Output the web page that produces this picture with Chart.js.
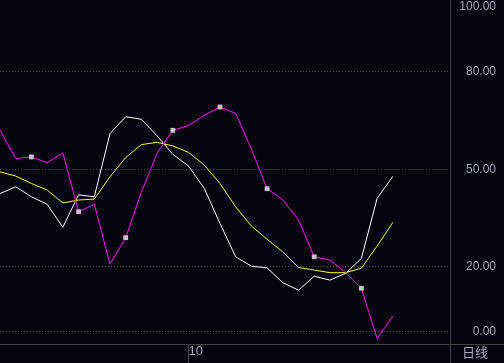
<!DOCTYPE html>
<html>
<head>
<meta charset="utf-8">
<script src="https://cdn.jsdelivr.net/npm/chart.js@4/dist/chart.umd.min.js"></script>
<style>
html,body{margin:0;padding:0;background:#04040e;overflow:hidden}
canvas{display:block}
</style>
</head>
<body>
<canvas id="c" width="504" height="363"></canvas>
<script>
// Trading-day positions shown in the window
const dayIndex = [0,1,2,3,4,5,6,7,8,9,10,11,12,13,14,15,16,17,18,19,20,21,22,23,24,25];

// Series values
const whiteLine   = [42.5,44.6,41.5,39.2,32.1,42.1,41.5,61.0,66.2,65.4,60.3,54.6,51.0,44.1,33.3,23.0,20.1,19.6,15.0,12.7,17.0,15.8,17.9,22.5,41.0,47.8];
const yellowLine  = [49.2,47.9,45.6,43.6,39.6,40.5,40.8,47.7,53.6,57.6,58.3,57.2,55.2,51.3,45.6,38.4,32.5,28.4,24.5,19.7,18.9,18.1,18.1,19.5,26.3,33.6];
const magentaLine = [62.0,53.3,53.8,52.0,55.1,36.9,39.2,20.7,28.9,42.9,55.0,62.0,63.5,66.6,69.2,67.2,56.2,44.0,40.6,34.3,23.0,22.0,18.1,13.3,-2.2,4.7];

// Tick labels
const yTickValues = [0,20,50,80,100];
const monthTickIndex = [12];
const monthTickLabels = ['10'];
const periodLabel = '日线';

const BG = '#04040e';
const FRAME = '#444444';
const GRID = '#474747';
const TEXT = '#a3adbb';

const framePlugin = {
  id: 'frame',
  beforeDraw(chart) {
    const ctx = chart.ctx;
    ctx.save();
    ctx.fillStyle = BG;
    ctx.fillRect(0, 0, chart.width, chart.height);
    ctx.restore();
  },
  afterDraw(chart) {
    const ctx = chart.ctx, a = chart.chartArea;
    ctx.save();
    ctx.strokeStyle = FRAME;
    ctx.lineWidth = 1;
    ctx.beginPath();
    ctx.moveTo(0, Math.round(a.bottom) + 0.5);
    ctx.lineTo(chart.width, Math.round(a.bottom) + 0.5);
    ctx.moveTo(Math.round(a.right) + 0.5, 0);
    ctx.lineTo(Math.round(a.right) + 0.5, chart.height);
    ctx.stroke();
    ctx.fillStyle = TEXT;
    ctx.font = '13px "Noto Sans CJK SC"';
    ctx.textAlign = 'center';
    ctx.textBaseline = 'middle';
    ctx.fillText(periodLabel, (a.right + chart.width) / 2 - 2, (a.bottom + chart.height) / 2 - 1);
    ctx.restore();
  }
};

function series(values) {
  return dayIndex.map((d, i) => ({ x: d, y: values[i] }));
}

new Chart(document.getElementById('c'), {
  type: 'line',
  data: {
    datasets: [
      {
        data: series(magentaLine),
        borderColor: '#ff00ff',
        borderWidth: 1,
        tension: 0,
        pointStyle: 'rect',
        pointRadius: ctx => (ctx.dataIndex % 3 === 2 ? 3.4 : 0),
        pointBackgroundColor: '#c8c4cc',
        pointBorderWidth: 0
      },
      {
        data: series(yellowLine),
        borderColor: '#ffff00',
        borderWidth: 1,
        tension: 0,
        pointRadius: 0
      },
      {
        data: series(whiteLine),
        borderColor: '#ffffff',
        borderWidth: 1,
        tension: 0,
        pointRadius: 0
      }
    ]
  },
  options: {
    responsive: false,
    animation: false,
    devicePixelRatio: 1,
    events: [],
    layout: { padding: { left: 0, top: 0, right: 8, bottom: 0 } },
    plugins: { legend: { display: false }, tooltip: { enabled: false } },
    scales: {
      x: {
        type: 'linear',
        min: 0,
        max: 28.64,
        afterBuildTicks: s => { s.ticks = monthTickIndex.map(v => ({ value: v })); },
        afterFit: s => { s.height = 19; s.paddingLeft = 0; s.paddingRight = 0; },
        grid: { display: true, drawOnChartArea: false, drawTicks: true, tickLength: 19, color: FRAME, tickColor: FRAME, lineWidth: 1 },
        border: { display: false },
        ticks: {
          align: 'start',
          padding: -19,
          maxRotation: 0,
          autoSkip: false,
          color: TEXT,
          font: { family: '"Liberation Sans", Arial, sans-serif', size: 13 },
          callback: v => { const k = monthTickIndex.indexOf(v); return k >= 0 ? monthTickLabels[k] : ''; }
        }
      },
      y: {
        position: 'right',
        min: -3.9,
        max: 102.2,
        afterBuildTicks: s => { s.ticks = yTickValues.map(v => ({ value: v })); },
        afterFit: s => { s.width = 46; s.paddingTop = 0; s.paddingBottom = 0; },
        grid: {
          drawTicks: false,
          lineWidth: 1,
          color: ctx => (ctx.tick && ctx.tick.value === 100 ? 'rgba(0,0,0,0)' : GRID)
        },
        border: { display: false, dash: [1, 2] },
        ticks: {
          crossAlign: 'far',
          padding: 0,
          color: TEXT,
          font: { family: '"Liberation Sans", Arial, sans-serif', size: 12 },
          callback: v => Number(v).toFixed(2)
        }
      }
    }
  },
  plugins: [framePlugin]
});
</script>
</body>
</html>
